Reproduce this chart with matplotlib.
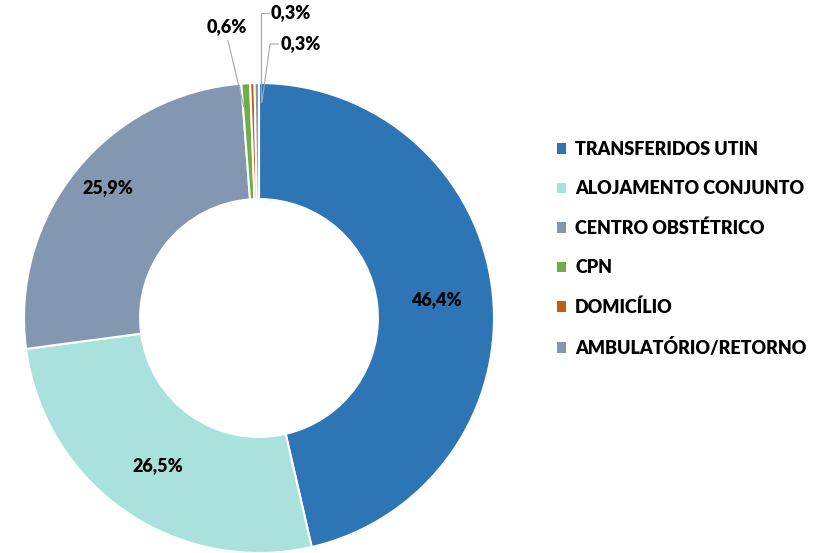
import matplotlib.pyplot as plt
from matplotlib.patches import Patch

# Dados
categorias = ['TRANSFERIDOS UTIN', 'ALOJAMENTO CONJUNTO', 'CENTRO OBSTÉTRICO',
              'CPN', 'DOMICÍLIO', 'AMBULATÓRIO/RETORNO']
valores = [46.4, 26.5, 25.9, 0.6, 0.3, 0.3]
rotulos = ['46,4%', '26,5%', '25,9%', '0,6%', '0,3%', '0,3%']
cores = ['#2E75B6', '#A9E2DD', '#8497B0', '#70AD47', '#C55A11', '#8497B0']


def main():
    plt.rcParams['font.family'] = ['Lato', 'DejaVu Sans']
    fs = 13
    wt = 'heavy'
    fig = plt.figure(figsize=(8.16, 5.53), dpi=100)

    # donut centred at (259, 318) px, radius 235 px
    cx, cy, r = 259 / 816, 1 - 318 / 553, 235
    ax = fig.add_axes([cx - r / 816, cy - r / 553, 2 * r / 816, 2 * r / 553])
    wedges, _ = ax.pie(valores, colors=cores, startangle=90, counterclock=False,
                       radius=1, wedgeprops=dict(width=0.494, edgecolor='white', linewidth=1.5))
    ax.set_xlim(-1, 1)
    ax.set_ylim(-1, 1)
    ax.set_aspect('equal')
    ax.axis('off')

    # rótulos dentro das fatias grandes
    pos = [(0.753, 0.077), (-0.43, -0.626), (-0.643, 0.557)]
    for (x, y), t in zip(pos, rotulos[:3]):
        ax.text(x, y, t, ha='center', va='center', fontsize=fs, fontweight=wt)

    # rótulos das fatias pequenas com linhas guia
    ax.text(-0.136, 1.238, rotulos[3], ha='center', va='center', fontsize=fs,
            fontweight=wt, clip_on=False)
    ax.plot([-0.132, -0.065], [1.18, 0.90], color='#A6A6A6', lw=0.8, clip_on=False)

    ax.text(0.05, 1.298, rotulos[4], ha='left', va='center', fontsize=fs,
            fontweight=wt, clip_on=False)
    ax.plot([0.042, 0.008, 0.008], [1.298, 1.298, 0.92], color='#A6A6A6', lw=0.8, clip_on=False)

    ax.text(0.09, 1.166, rotulos[5], ha='left', va='center', fontsize=fs,
            fontweight=wt, clip_on=False)
    ax.plot([0.082, 0.047, 0.013], [1.166, 1.166, 0.92], color='#A6A6A6', lw=0.8, clip_on=False)

    handles = [Patch(facecolor=c, edgecolor='none') for c in cores]
    fig.legend(handles, categorias, loc='upper left', bbox_to_anchor=(557 / 816, 1 - 141 / 553),
               frameon=False, handlelength=0.5, handleheight=0.5, handletextpad=0.5,
               labelspacing=1.23, borderaxespad=0, borderpad=0,
               prop=dict(size=fs, weight=wt))

    fig.savefig('out.png', dpi=100)


if __name__ == '__main__':
    main()
